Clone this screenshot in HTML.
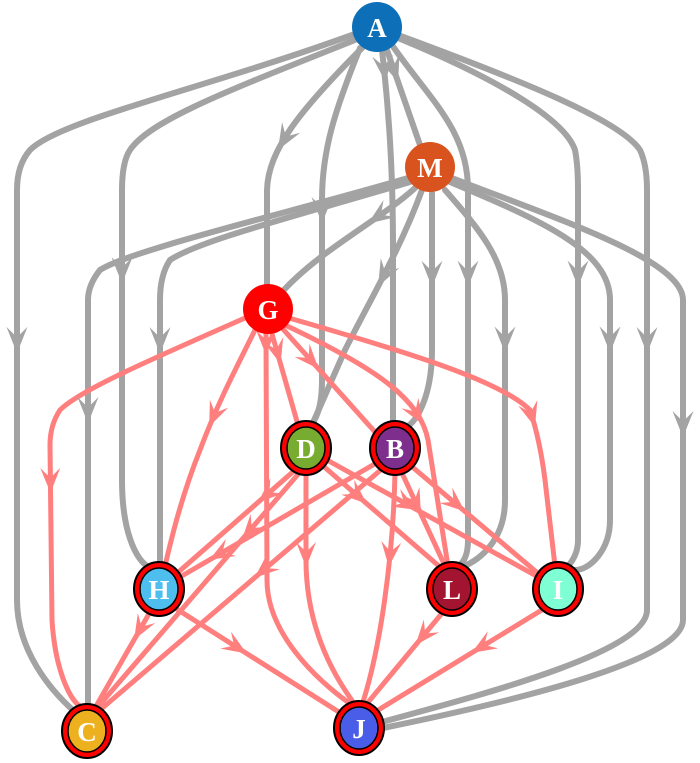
<!DOCTYPE html>
<html><head><meta charset="utf-8"><style>
html,body{margin:0;padding:0;background:#fff;}
svg{display:block;}
text{font-family:"Liberation Serif",serif;font-size:27px;font-weight:bold;fill:#fff;text-anchor:middle;dominant-baseline:central;}
</style></head><body>
<svg id="s" width="700" height="763" viewBox="0 0 700 763" xmlns="http://www.w3.org/2000/svg">
<g id="gray" fill="none" stroke="#a3a3a3" stroke-width="6" stroke-linecap="round"></g>
<g id="red" fill="none" stroke="#ff7f7f" stroke-width="5" stroke-linecap="round"></g>
<g id="arrows"></g>
<g id="nodes"></g>
</svg>
<script>
var NS="http://www.w3.org/2000/svg";
var gray=[
["M352,35 C200,90 60,120 30,150 Q17,165 17,190 L17,600 C17,650 50,690 75,712",18,343],
["M355,40 C230,90 150,120 130,150 Q122,162 122,190 L122,480 C122,530 135,560 150,568",121,273],
["M365,45 C300,110 268,150 267,190 L267,288",269,133],
["M360,48 C335,110 322,150 322,200 L322,380 C322,410 315,420 310,427",323,213],
["M382,50 C390,120 393,180 393,250 L393,425",385,72],
["M387,50 L420,145",398,72],
["M392,45 C430,100 468,130 468,190 L468,540 Q468,560 458,566",467,277],
["M398,38 C500,80 565,120 575,150 Q578,165 578,190 L578,540 Q578,555 568,566",577,277],
["M398,35 C520,80 620,120 640,150 Q647,165 647,190 L647,610 C647,650 500,690 382,722",646,343],
["M408,178 C300,210 130,250 100,270 Q88,285 88,300 L88,706",89,413],
["M410,182 C300,215 200,240 170,260 Q160,275 160,300 L160,565",159,343],
["M415,188 C380,220 320,250 282,292",378,220],
["M422,190 C400,250 370,300 345,350 L312,425",373,273],
["M432,193 L432,350 C432,390 420,420 405,428",433,277],
["M445,190 C480,230 505,260 505,300 L505,500 C505,540 480,560 462,567",505,343],
["M450,182 C540,220 610,250 610,300 L610,520 C610,550 590,570 575,570",612,343],
["M452,178 C560,220 683,260 683,300 L683,620 C683,660 520,700 383,728",684,427]
];
var red=[
["M245,318 C150,360 80,390 60,410 Q50,425 50,445 L52,620 C55,670 70,700 80,706",53,483],
["M255,330 C230,380 215,410 200,450 C180,500 170,545 165,566",211,417],
["M266,334 L267,580 C267,640 330,690 352,705",268,345],
["M272,334 L298,425",283,353],
["M282,328 L375,432",312,362],
["M285,325 C380,370 420,400 428,440 L448,566",423,413],
["M289,318 C400,350 500,380 530,410 Q540,440 545,480 L555,566",532,417],
["M295,470 L175,575",265,495],
["M300,472 L97,708",248,532],
["M306,473 L306,560 C306,640 345,690 355,705",306,557],
["M322,465 L440,567",359,497],
["M327,460 L540,578",408,505],
["M378,462 L180,577",218,555],
["M383,468 L100,710",262,571],
["M395,473 C393,560 380,650 362,705",393,557],
["M402,473 L445,566",417,505],
["M410,465 L540,575",458,505],
["M150,612 L95,708",139,631],
["M175,608 L342,714",238,648],
["M443,612 L365,706",422,637],
["M545,608 L375,712",480,648]
];
function add(list,gid,col,sz){
 var g=document.getElementById(gid),ag=document.getElementById("arrows");
 list.forEach(function(e){
  var p=document.createElementNS(NS,"path");p.setAttribute("d",e[0]);g.appendChild(p);
  var L=p.getTotalLength(),best=0,bd=1e9;
  for(var l=0;l<=L;l+=1){var q=p.getPointAtLength(l);var d=(q.x-e[1])*(q.x-e[1])+(q.y-e[2])*(q.y-e[2]);if(d<bd){bd=d;best=l;}}
  var a=p.getPointAtLength(Math.max(0,best-3)),b=p.getPointAtLength(Math.min(L,best+3)),c=p.getPointAtLength(best+10);
  var ang=Math.atan2(b.y-a.y,b.x-a.x)*180/Math.PI;
  var pol=document.createElementNS(NS,"polygon");
  pol.setAttribute("points","0,0 "+(-sz*1.25)+","+(-sz*0.5)+" "+(-sz*0.75)+",0 "+(-sz*1.25)+","+(sz*0.5));
  pol.setAttribute("fill",col);
  pol.setAttribute("transform","translate("+c.x+","+c.y+") rotate("+ang+")");
  ag.appendChild(pol);
 });
}
add(gray,"gray","#a3a3a3",21);
add(red,"red","#ff7f7f",20);
var nodes=[
["A",377,27,"#0d6fb8",0],["M",430,167,"#d9531e",0],["G",268,309,"#ff0000",0],
["D",306,448,"#77ac30",1],["B",395,448,"#7e2f8e",1],["H",159,589,"#4dbeee",1],
["L",452,589,"#a2142f",1],["I",558,589,"#7fffd4",1],["C",87,731,"#edb120",1],["J",359,728,"#4a5de8",1]
];
var ng=document.getElementById("nodes");
nodes.forEach(function(n){
 var h="";
 if(n[4]){
  h+='<ellipse cx="'+n[1]+'" cy="'+n[2]+'" rx="25" ry="27" fill="#ff0000" stroke="#000" stroke-width="2"/>';
  h+='<ellipse cx="'+n[1]+'" cy="'+n[2]+'" rx="19" ry="21" fill="'+n[3]+'" stroke="#000" stroke-width="1.5"/>';
 } else {
  h+='<ellipse cx="'+n[1]+'" cy="'+n[2]+'" rx="25" ry="25" fill="'+n[3]+'"/>';
 }
 h+='<text x="'+n[1]+'" y="'+(n[2]+1)+'">'+n[0]+'</text>';
 ng.insertAdjacentHTML("beforeend",h);
});
</script>
</body></html>
